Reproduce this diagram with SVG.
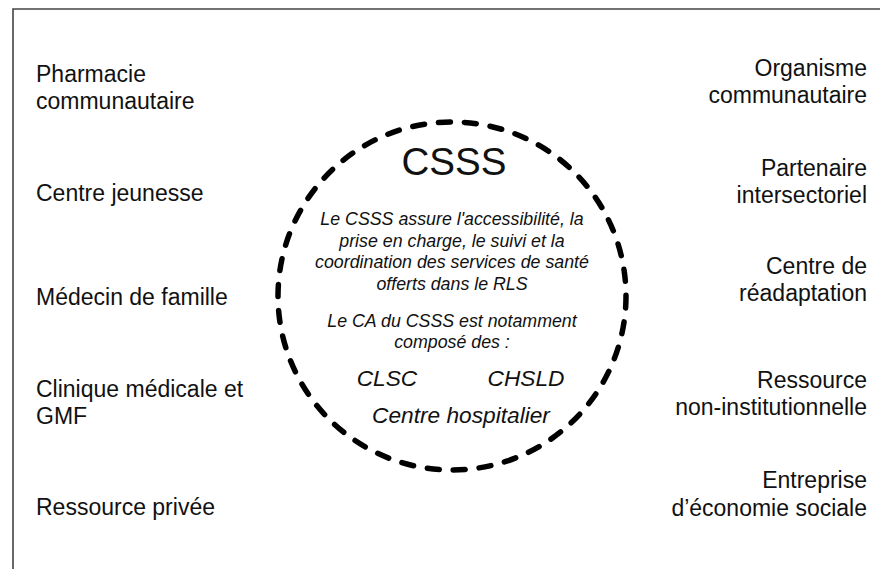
<svg xmlns="http://www.w3.org/2000/svg" width="880" height="569" viewBox="0 0 880 569">
<style>
.lbl{font-family:"Liberation Sans",Arial,sans-serif;font-size:23px;fill:#111}
.r{text-anchor:end}
.c{text-anchor:middle;font-family:"Liberation Sans",Arial,sans-serif;fill:#111}
.it{font-style:italic;font-size:17.8px}
.big{font-style:italic;font-size:22.7px}
</style>
<rect width="880" height="569" fill="#fff"/>
<path d="M13,569 V9 H880" fill="none" stroke="#444" stroke-width="1.6"/>
<g id="connectors"></g>
<g id="csss">
<circle cx="452" cy="296" r="174" fill="none" stroke="#000" stroke-width="5.5" stroke-dasharray="12 14" stroke-linecap="round"/>
<text class="c" x="454" y="175" font-size="38.6">CSSS</text>
<text class="c it" x="452" y="225">Le CSSS assure l'accessibilité, la</text>
<text class="c it" x="452" y="247">prise en charge, le suivi et la</text>
<text class="c it" x="452" y="268">coordination des services de santé</text>
<text class="c it" x="452" y="290">offerts dans le RLS</text>
<text class="c it" x="452" y="327">Le CA du CSSS est notamment</text>
<text class="c it" x="452" y="348">composé des :</text>
<text class="c big" x="387" y="386">CLSC</text>
<text class="c big" x="526" y="386">CHSLD</text>
<text class="c big" x="461" y="423">Centre hospitalier</text>
</g>
<g id="pharmacie"><text class="lbl" x="36" y="82">Pharmacie</text><text class="lbl" x="36" y="109">communautaire</text></g>
<g id="centre-jeunesse"><text class="lbl" x="36" y="201">Centre jeunesse</text></g>
<g id="medecin"><text class="lbl" x="36" y="305">Médecin de famille</text></g>
<g id="clinique"><text class="lbl" x="36" y="397">Clinique médicale et</text><text class="lbl" x="36" y="424">GMF</text></g>
<g id="ressource-privee"><text class="lbl" x="36" y="515">Ressource privée</text></g>
<g id="organisme"><text class="lbl r" x="867" y="76">Organisme</text><text class="lbl r" x="867" y="103">communautaire</text></g>
<g id="partenaire"><text class="lbl r" x="867" y="176">Partenaire</text><text class="lbl r" x="867" y="203">intersectoriel</text></g>
<g id="readaptation"><text class="lbl r" x="867" y="274">Centre de</text><text class="lbl r" x="867" y="301">réadaptation</text></g>
<g id="ressource-non"><text class="lbl r" x="867" y="388">Ressource</text><text class="lbl r" x="867" y="415">non-institutionnelle</text></g>
<g id="entreprise"><text class="lbl r" x="867" y="488">Entreprise</text><text class="lbl r" x="867" y="516">d’économie sociale</text></g>
</svg>
